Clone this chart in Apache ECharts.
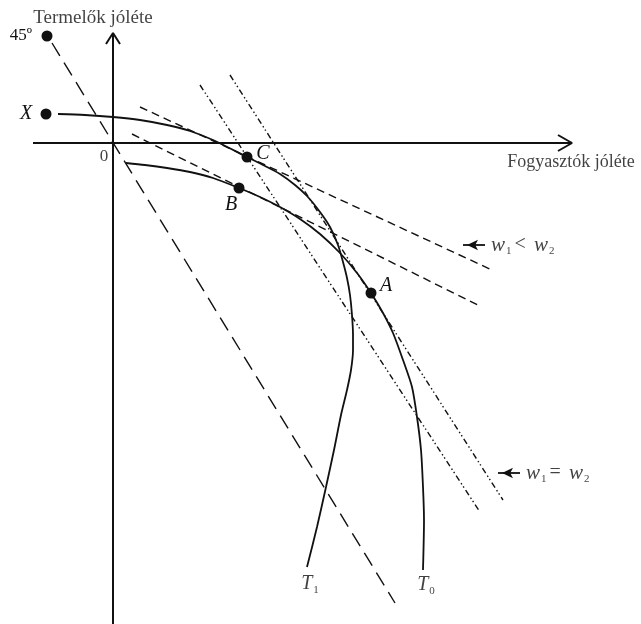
<!DOCTYPE html>
<html>
<head>
<meta charset="utf-8">
<script src="https://cdn.jsdelivr.net/npm/echarts@6/dist/echarts.min.js"></script>
<style>html,body{margin:0;padding:0;background:#fff}#c{width:641px;height:624px}</style>
</head>
<body>
<div id="c"></div>
<script>
// ---- data (welfare units; origin = intersection of the axes) ----
const xAxisLine = [[-80, 0], [459, 0]];
const xArrowHead = [[445, 8], [459, 0], [445, -8]];
const yAxisLine = [[0, -481], [0, 110]];
const yArrowHead = [[-7, 99], [0, 110], [7, 99]];

const line45 = [[-61, 100], [282, -460]];
const wLessUpper = [[27, 36], [379, -127]];
const wLessLower = [[19, 9], [365, -162]];
const wEqLeft = [[87, 58], [367, -369]];
const wEqRight = [[117, 68], [390, -357]];

const curveT1 = [[-55, 29], [-28, 28], [0, 26], [27, 23], [54, 18], [77, 12], [100, 3], [134, -14],
  [152, -23], [167, -31], [182, -42], [194, -53], [207, -69], [217, -84], [225, -102], [230, -119],
  [234, -135], [237, -152], [239, -172], [240, -192], [240, -207], [238, -227], [234, -247],
  [228, -272], [221, -307], [213, -344], [204, -384], [194, -424]];
const curveT0 = [[13, -20], [32, -22], [54, -25], [77, -29], [100, -35], [126, -45], [147, -54],
  [167, -64], [187, -76], [207, -91], [227, -110], [244, -130], [258, -150], [270, -170],
  [280, -190], [290, -217], [299, -244], [304, -274], [308, -307], [310, -344], [311, -377], [310, -427]];

const pointNames = ['45º', 'X', 'C', 'B', 'A'];
const pointValues = [[-66, 107], [-67, 29], [134, -14], [126, -45], [258, -150]];

const arrowLess = [[372, -102], [350, -102]];   // tail, tip
const arrowEq = [[407, -330], [385, -330]];

const yTitle = 'Termelők jóléte';
const xTitle = 'Fogyasztók jóléte';
const originLabel = '0';

// ---- styles ----
const ink = '#111111';
const serif = 'Liberation Serif';
const rich = {
  it: { fontFamily: serif, fontStyle: 'italic', fontSize: 20, color: ink },
  w: { fontFamily: serif, fontStyle: 'italic', fontSize: 21, color: ink },
  sub: { fontFamily: serif, fontSize: 11, color: ink, padding: [12, 0, 0, 1] },
  op: { fontFamily: serif, fontSize: 20, color: ink, padding: [0, 3, 0, 3] }
};
function seg(data, dash, width, smooth) {
  return { type: 'line', data: data, symbol: 'none', silent: true, smooth: smooth || false,
    lineStyle: { color: ink, width: width, type: dash, cap: 'butt' }, animation: false };
}
const pointOffsets = { '45º': [-26, 0], 'X': [-20, 0], 'C': [16, -3], 'B': [-8, 17], 'A': [15, -7] };
const pointData = pointNames.map((n, i) => ({
  name: n, value: pointValues[i],
  label: { show: true, position: 'inside', offset: pointOffsets[n],
    formatter: n === '45º' ? '{n|45º}' : '{it|' + n + '}',
    rich: Object.assign({ n: { fontFamily: serif, fontSize: 17, color: ink } }, rich) }
}));
const ann = [
  { value: yArrowHead[1], label: { show: true, position: 'inside', offset: [-20, -15], formatter: yTitle,
      fontFamily: serif, fontSize: 19, color: ink } },
  { value: xArrowHead[1], label: { show: true, position: 'inside', offset: [-1, 19], formatter: xTitle,
      fontFamily: serif, fontSize: 18, color: ink } },
  { value: [0, 0], label: { show: true, position: 'inside', offset: [-9, 14], formatter: originLabel,
      fontFamily: serif, fontSize: 17, color: ink } },
  { value: curveT1[curveT1.length - 1], label: { show: true, position: 'inside', offset: [3, 17],
      formatter: '{it|T}{sub|1}', rich: rich } },
  { value: curveT0[curveT0.length - 1], label: { show: true, position: 'inside', offset: [3, 15],
      formatter: '{it|T}{sub|0}', rich: rich } },
  { value: arrowLess[0], label: { show: true, position: 'right', distance: 6,
      formatter: '{w|w}{sub|1}{op|<}{w| w}{sub|2}', rich: rich } },
  { value: arrowEq[0], label: { show: true, position: 'right', distance: 6,
      formatter: '{w|w}{sub|1}{op|=}{w| w}{sub|2}', rich: rich } }
];

const chart = echarts.init(document.getElementById('c'), null, { renderer: 'canvas' });
chart.setOption({
  backgroundColor: '#fff',
  animation: false,
  grid: { left: 0, right: 0, top: 0, bottom: 0 },
  xAxis: { type: 'value', min: -113, max: 528, show: false },
  yAxis: { type: 'value', min: -481, max: 143, show: false },
  series: [
    seg(xAxisLine, 'solid', 2), seg(xArrowHead, 'solid', 2),
    seg(yAxisLine, 'solid', 2), seg(yArrowHead, 'solid', 2),
    seg(line45, [15, 8], 1.4),
    seg(wLessUpper, [8, 5], 1.4), seg(wLessLower, [8, 5], 1.4),
    seg(wEqLeft, [6, 3, 1.4, 2.5, 1.4, 3], 1.4), seg(wEqRight, [6, 3, 1.4, 2.5, 1.4, 3], 1.4),
    seg(curveT1, 'solid', 1.8, 0.25), seg(curveT0, 'solid', 1.8, 0.25),
    seg(arrowLess, 'solid', 1.8), seg(arrowEq, 'solid', 1.8),
    { type: 'scatter', symbol: 'arrow', symbolSize: [8, 11], symbolRotate: 90,
      itemStyle: { color: ink, opacity: 1 }, silent: true,
      data: [arrowLess[1], arrowEq[1]].map(p => ({ value: [p[0] + 4, p[1]] })) },
    { type: 'scatter', symbol: 'circle', symbolSize: 11, itemStyle: { color: ink, opacity: 1 }, silent: true,
      data: pointData, z: 5 },
    { type: 'scatter', symbolSize: 0, silent: true, data: ann, z: 6 }
  ]
});
</script>
</body>
</html>
